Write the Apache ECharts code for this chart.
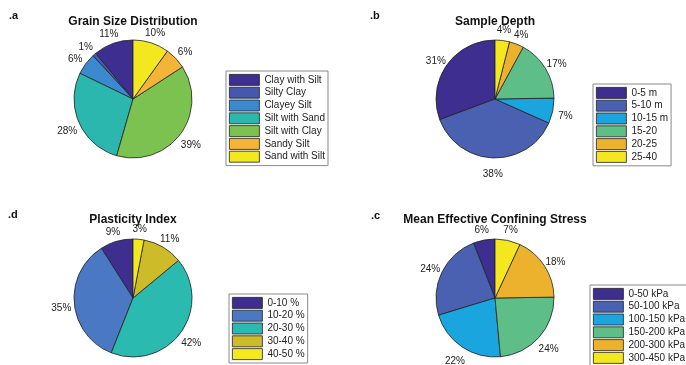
<!DOCTYPE html>
<html>
<head>
<meta charset="utf-8">
<script src="https://cdn.jsdelivr.net/npm/echarts@6/dist/echarts.min.js"></script>
<style>
  html, body { margin: 0; padding: 0; background: #fff; }
  #chart { width: 686px; height: 365px; }
</style>
</head>
<body>
<div id="chart"></div>
<script>
// Grain size distribution (percent of samples)
const grainNames = ['Clay with Silt', 'Silty Clay', 'Clayey Silt', 'Silt with Sand', 'Silt with Clay', 'Sandy Silt', 'Sand with Silt'];
const grainValues = [11, 1, 6, 28, 39, 6, 10];
const grainColors = ['#3d2e90', '#4658ad', '#3b8ad0', '#2bb7ad', '#7cc251', '#f4b438', '#f3e81f'];

// Sample depth
const depthNames = ['0-5 m', '5-10 m', '10-15 m', '15-20', '20-25', '25-40'];
const depthValues = [31, 38, 7, 17, 4, 4];
const depthColors = ['#3d2e90', '#4a61b2', '#1ba5de', '#5ebe87', '#ecb22e', '#f4e61f'];

// Plasticity index
const plasticityNames = ['0-10 %', '10-20 %', '20-30 %', '30-40 %', '40-50 %'];
const plasticityValues = [9, 35, 42, 11, 3];
const plasticityColors = ['#3d2e90', '#4a78c3', '#2bbab0', '#cebb2a', '#f4e81f'];

// Mean effective confining stress
const stressNames = ['0-50 kPa', '50-100 kPa', '100-150 kPa', '150-200 kPa', '200-300 kPa', '300-450 kPa'];
const stressValues = [6, 24, 22, 24, 18, 7];
const stressColors = ['#3d2e90', '#4a61b2', '#1ba5de', '#5ebe87', '#ecb22e', '#f4e61f'];

const FONT = '"Liberation Sans", Arial, Helvetica, sans-serif';
const R = 59;

function toData(names, values, colors) {
  return names.map((n, i) => ({ name: n, value: values[i], itemStyle: { color: colors[i] } }));
}

// A pie drawn counter-clockwise from 12 o'clock, plus a transparent ring
// whose centred labels sit just outside the pie edge.
function pieSeries(names, values, colors, center) {
  const data = toData(names, values, colors);
  return [
    {
      type: 'pie',
      center: center,
      radius: [0, R],
      startAngle: 90,
      clockwise: false,
      silent: true,
      label: { show: false },
      labelLine: { show: false },
      itemStyle: { borderColor: '#222', borderWidth: 0.8 },
      data: data
    },
    {
      type: 'pie',
      center: center,
      radius: [R, R + 20],
      startAngle: 90,
      clockwise: false,
      silent: true,
      itemStyle: { color: 'rgba(0,0,0,0)', borderWidth: 0 },
      label: {
        show: true,
        position: 'inside',
        formatter: '{c}%',
        fontFamily: FONT,
        fontSize: 10,
        color: '#222'
      },
      labelLayout: { dy: 3 },
      labelLine: { show: false },
      data: data.map(d => ({ name: d.name, value: d.value, itemStyle: { color: 'rgba(0,0,0,0)' } }))
    }
  ];
}

function legend(names, left, top) {
  return {
    orient: 'vertical',
    left: left,
    top: top,
    height: 150,
    data: names,
    icon: 'rect',
    itemWidth: 30,
    itemHeight: 11,
    itemGap: 1,
    padding: 3,
    borderColor: '#8a8a8a',
    borderWidth: 1,
    backgroundColor: '#fff',
    selectedMode: false,
    itemStyle: { borderColor: '#222', borderWidth: 0.8 },
    textStyle: { fontFamily: FONT, fontSize: 10, color: '#222', lineHeight: 11 }
  };
}

function title(text, x, y) {
  return {
    text: text, left: x, top: y, textAlign: 'center', padding: 0,
    textStyle: { fontFamily: FONT, fontSize: 12, fontWeight: 'bold', color: '#111' }
  };
}

function tag(text, x, y) {
  return {
    text: text, left: x, top: y, padding: 0,
    textStyle: { fontFamily: FONT, fontSize: 11, fontWeight: 'bold', color: '#111' }
  };
}

const chart = echarts.init(document.getElementById('chart'), null, { renderer: 'canvas' });
chart.setOption({
  backgroundColor: '#fff',
  animation: false,
  title: [
    title('Grain Size Distribution', 133, 16),
    title('Sample Depth', 495, 16),
    title('Plasticity Index', 133, 214),
    title('Mean Effective Confining Stress', 495, 214),
    tag('.a', 9, 10),
    tag('.b', 370, 10),
    tag('.d', 8, 209),
    tag('.c', 371, 210)
  ],
  legend: [
    legend(grainNames, 226, 71),
    legend(depthNames, 593, 84),
    legend(plasticityNames, 229, 294),
    legend(stressNames, 590, 285)
  ],
  series: [
    ...pieSeries(grainNames, grainValues, grainColors, [133, 99]),
    ...pieSeries(depthNames, depthValues, depthColors, [495, 99]),
    ...pieSeries(plasticityNames, plasticityValues, plasticityColors, [133, 298]),
    ...pieSeries(stressNames, stressValues, stressColors, [495, 298])
  ]
});
</script>
</body>
</html>
